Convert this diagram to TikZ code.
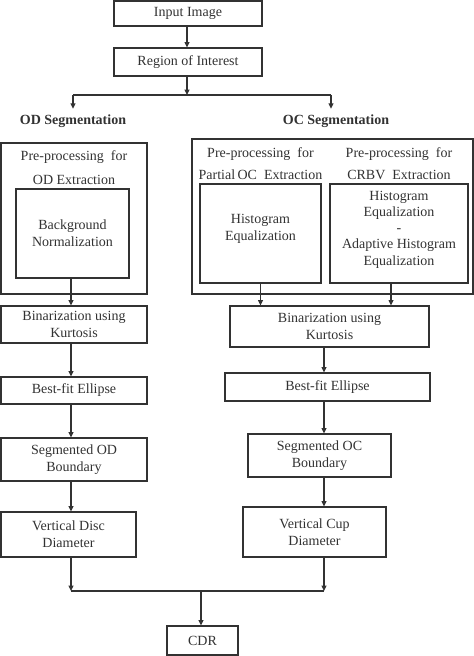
\documentclass[tikz,border=0pt]{standalone}
\usepackage{fontspec}
\setmainfont{Liberation Serif}
\usetikzlibrary{arrows.meta}
\definecolor{ink}{RGB}{50,50,50}
\tikzset{every picture/.style={line width=0.75pt}}
\tikzset{
  flowbox/.style={draw=ink, line width=0.85pt, inner sep=0.75pt, align=center, text=ink, font=\fontsize{10.5}{12.5}\selectfont},
  txtnode/.style={inner sep=0.75pt, align=center, text=ink, font=\fontsize{10.5}{12.5}\selectfont},
  seglabel/.style={inner sep=4pt, text=ink, font=\fontsize{10.5}{12.5}\selectfont\bfseries},
  arr/.style={draw=ink, line width=0.85pt, -{Triangle[length=4pt,width=3.6pt]}},
  mergeline/.style={draw=ink, line width=0.85pt},
}

\begin{document}
\begin{tikzpicture}[x=0.75pt,y=0.75pt,yscale=-1,xscale=1]
\useasboundingbox (0,0) rectangle (474,656);

%Shape: Rectangle [Input Image]
\node (inp) [flowbox, minimum width=111pt, minimum height=18.75pt] at (188,13.5) {Input Image};
%Shape: Rectangle [Region of Interest]
\node (roi) [flowbox, minimum width=111pt, minimum height=21pt] at (188,62) {Region of Interest};

% Split points
\coordinate (split) at (187,95);
\coordinate (odsplit) at (73,95);
\coordinate (ocsplit) at (331,95);

% Text Node
\node (odlbl) [seglabel] at (73,121) {OD Segmentation};
% Text Node
\node (oclbl) [seglabel] at (336,121) {OC Segmentation};

%Shape: Rectangle [OD pre-processing]
\node (odout) [flowbox, minimum width=109.5pt, minimum height=113.25pt] at (74,218.5) {};
% Text Node
\node (odpre) [txtnode] at (74,167.5) {Pre-processing\ \ for\\[6pt]OD Extraction};
%Shape: Rectangle
\node (odbg) [flowbox, minimum width=84.75pt, minimum height=66.75pt] at (72.5,233.5) {Background\\Normalization};

%Shape: Rectangle [OC pre-processing]
\node (ocout) [flowbox, minimum width=210.75pt, minimum height=116.25pt] at (332.5,216.5) {};
% Text Node
\node (ocprea) [txtnode] at (260.5,164) {Pre-processing\ \ for\\[4pt]Partial\,OC\ \ Extraction};
% Text Node
\node (ocpreb) [txtnode] at (399,164) {Pre-processing\ \ for\\[4pt]CRBV\ \ Extraction};
%Shape: Rectangle
\node (ochist) [flowbox, minimum width=90.75pt, minimum height=74.25pt] at (260.5,233.5) {};
% Text Node
\node (histtxt) [txtnode] at (260.5,229) {Histogram\\Equalization};
%Shape: Rectangle
\node (occrbv) [flowbox, minimum width=103.5pt, minimum height=74.25pt] at (399,233.5) {};
% Text Node
\node (crbvtxt) [txtnode, font=\fontsize{10.5}{12.2}\selectfont] at (399,229.5) {Histogram\\Equalization\\-\\Adaptive Histogram\\Equalization};

%OD column
\node (odbin) [flowbox, minimum width=109.5pt, minimum height=27.75pt] at (74,324.5) {Binarization using\\Kurtosis};
\node (odfit) [flowbox, minimum width=109.5pt, minimum height=20.25pt] at (74,390.5) {Best-fit Ellipse};
\node (odseg) [flowbox, minimum width=109.5pt, minimum height=32.25pt] at (74,459.5) {Segmented OD\\Boundary};
\node (oddia) [flowbox, minimum width=101.25pt, minimum height=33.75pt] at (68.5,534.5) {Vertical Disc\\Diameter};

%OC column
\node (ocbin) [flowbox, minimum width=149.25pt, minimum height=30.75pt] at (329.5,326.5) {Binarization using\\Kurtosis};
\node (ocfit) [flowbox, minimum width=153.75pt, minimum height=21pt] at (327.5,387) {Best-fit Ellipse};
\node (ocseg) [flowbox, minimum width=107.25pt, minimum height=32.25pt] at (319.5,455.5) {Segmented OC\\Boundary};
\node (occup) [flowbox, minimum width=107.25pt, minimum height=37.5pt] at (314.5,532) {Vertical Cup\\Diameter};

%Shape: Rectangle [CDR]
\node (cdr) [flowbox, minimum width=53.25pt, minimum height=21.75pt] at (202.5,640.5) {CDR};

% Merge points
\coordinate (odjoin) at (71,591);
\coordinate (ocjoin) at (324,591);
\coordinate (cdrjoin) at (201,591);

%Straight Lines [top]
\draw [arr] (inp.south -| split) -- (roi.north -| split);
\draw [arr] (roi.south -| split) -- (split);
\draw [mergeline] (odsplit) -- (ocsplit);
\draw [arr] (odsplit) -- (odsplit |- odlbl.north);
\draw [arr] (ocsplit) -- (ocsplit |- oclbl.north);

%Straight Lines [OD]
\draw [arr] (odbg.south -| odjoin) -- (odbin.north -| odjoin);
\draw [arr] (odbin.south -| odjoin) -- (odfit.north -| odjoin);
\draw [arr] (odfit.south -| odjoin) -- (odseg.north -| odjoin);
\draw [arr] (odseg.south -| odjoin) -- (oddia.north -| odjoin);
\draw [arr] (oddia.south -| odjoin) -- (odjoin);

%Straight Lines [OC]
\draw [arr] (ochist.south) -- (ochist.south |- ocbin.north);
\draw [arr] ([xshift=-6pt]occrbv.south) -- ([xshift=-6pt]occrbv.south |- ocbin.north);
\draw [arr] (ocbin.south -| ocjoin) -- (ocfit.north -| ocjoin);
\draw [arr] (ocfit.south -| ocjoin) -- (ocseg.north -| ocjoin);
\draw [arr] (ocseg.south -| ocjoin) -- (occup.north -| ocjoin);
\draw [arr] (occup.south -| ocjoin) -- (ocjoin);

%Straight Lines [merge]
\draw [mergeline] (odjoin) -- (ocjoin);
\draw [arr] (cdrjoin) -- (cdrjoin |- cdr.north);

\end{tikzpicture}
\end{document}
